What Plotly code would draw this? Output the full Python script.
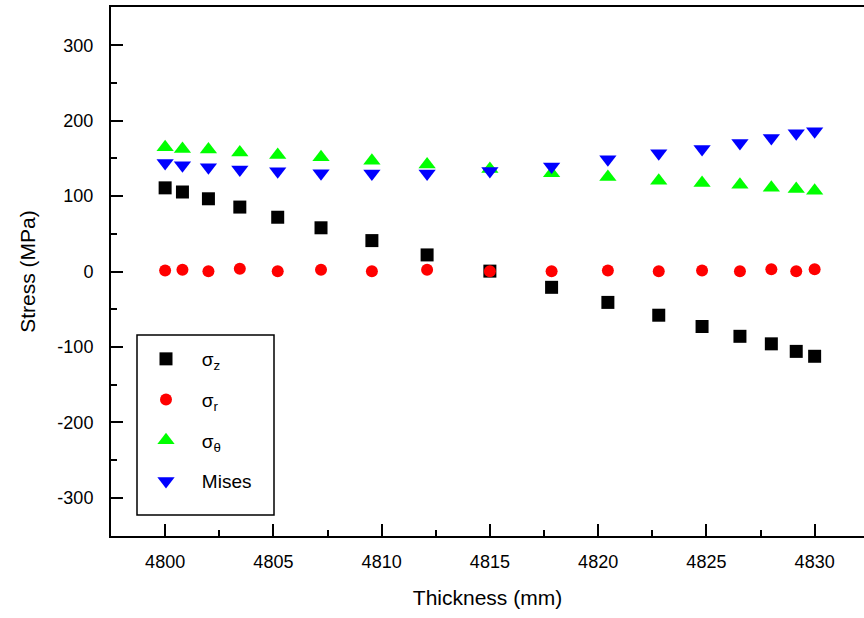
import plotly.graph_objects as go

thickness = [4800.0, 4800.8, 4802.0, 4803.45, 4805.2, 4807.2, 4809.55, 4812.1, 4815.0,
             4817.85, 4820.45, 4822.8, 4824.8, 4826.55, 4828.0, 4829.15, 4830.0]
sigma_z = [111, 105.5, 96.5, 85.5, 72, 58, 41, 22, 0.5, -21, -41, -58, -73, -86, -96, -106, -112.5]
sigma_r = [1.3, 2.2, 0.4, 3.6, 0.4, 2.2, 0.4, 2.2, 0.4, 0.4, 1.3, 0.4, 1.3, 0.4, 3.1, 0.4, 3.1]
sigma_theta = [165, 162.5, 162, 158, 154.5, 151.5, 147, 142, 136, 130.5, 125.5, 120.5, 117.5, 115, 111, 109.5, 107]
mises = [144, 141, 138.5, 135.5, 133, 130.5, 130, 130, 133.5, 139.5, 149, 157, 162.5, 170.5, 177, 183.5, 186]

y_tickvals = [-300, -200, -100, 0, 100, 200, 300]
y_ticktext = ["-300", "-200", "-100", "0", "100", "200", "300"]

names = ["\u00a0\u00a0\u00a0σ<sub>z</sub>", "\u00a0\u00a0\u00a0σ<sub>r</sub>",
         "\u00a0\u00a0\u00a0σ<sub>θ</sub>", "\u00a0\u00a0\u00a0Mises"]
colors = ["#000000", "#ff0000", "#00ff00", "#0000ff"]
symbols = ["square", "circle", "triangle-up", "triangle-down"]
sizes = [13, 12, 15, 15]
series = [sigma_z, sigma_r, sigma_theta, mises]

FONT = "Liberation Sans, Arial, sans-serif"

fig = go.Figure()
for i, (nm, ys) in enumerate(zip(names, series)):
    fig.add_trace(go.Scatter(
        x=thickness, y=ys, mode="markers", name=nm, legendgroup=f"g{i}",
        marker=dict(symbol=symbols[i], color=colors[i], size=sizes[i], line=dict(width=0)),
    ))

L, T, B, R = 111, 7, 82, 0
W, H = 864, 618
pw, ph = W - L - R, H - T - B

def px_x(p):
    return (p - L) / pw

def px_y(p):
    return (H - B - p) / ph

fig.add_shape(type="rect", xref="paper", yref="paper",
              x0=px_x(137), x1=px_x(274), y0=px_y(515), y1=px_y(335),
              line=dict(color="black", width=1.5), fillcolor="rgba(0,0,0,0)", layer="above")

fig.update_layout(
    width=W, height=H,
    margin=dict(l=L, r=R, t=T, b=B, pad=0),
    paper_bgcolor="white", plot_bgcolor="white",
    font=dict(family=FONT, size=17, color="black"),
    showlegend=True,
    legend=dict(x=px_x(146), y=px_y(340), xanchor="left", yanchor="top",
                bgcolor="rgba(255,255,255,0)", borderwidth=0,
                font=dict(family=FONT, size=19, color="black"),
                tracegroupgap=13, itemsizing="trace"),
    xaxis=dict(
        range=[4797.5, 4832.28], tick0=4800, dtick=5,
        showline=True, linecolor="black", linewidth=2, mirror=True,
        ticks="inside", ticklen=12, tickwidth=1.5, tickcolor="black",
        minor=dict(dtick=2.5, tick0=4800, ticks="inside", ticklen=6, tickwidth=1.5, tickcolor="black", showgrid=False),
        showgrid=False, zeroline=False,
        tickfont=dict(family=FONT, size=18), ticklabelstandoff=8,
        title=dict(text="Thickness (mm)", font=dict(family=FONT, size=21), standoff=20),
    ),
    yaxis=dict(
        range=[-351, 351], tickvals=y_tickvals, ticktext=y_ticktext,
        showline=True, linecolor="black", linewidth=2, mirror=False,
        ticks="inside", ticklen=12, tickwidth=1.5, tickcolor="black",
        minor=dict(dtick=50, tick0=0, ticks="inside", ticklen=6, tickwidth=1.5, tickcolor="black", showgrid=False),
        showgrid=False, zeroline=False,
        tickfont=dict(family=FONT, size=18), ticklabelstandoff=12,
        title=dict(text="Stress (MPa)", font=dict(family=FONT, size=21), standoff=16),
    ),
)

fig.write_html("out.html", config={"displayModeBar": False},
               post_script="document.body.style.margin='0';document.body.style.overflow='hidden';")
